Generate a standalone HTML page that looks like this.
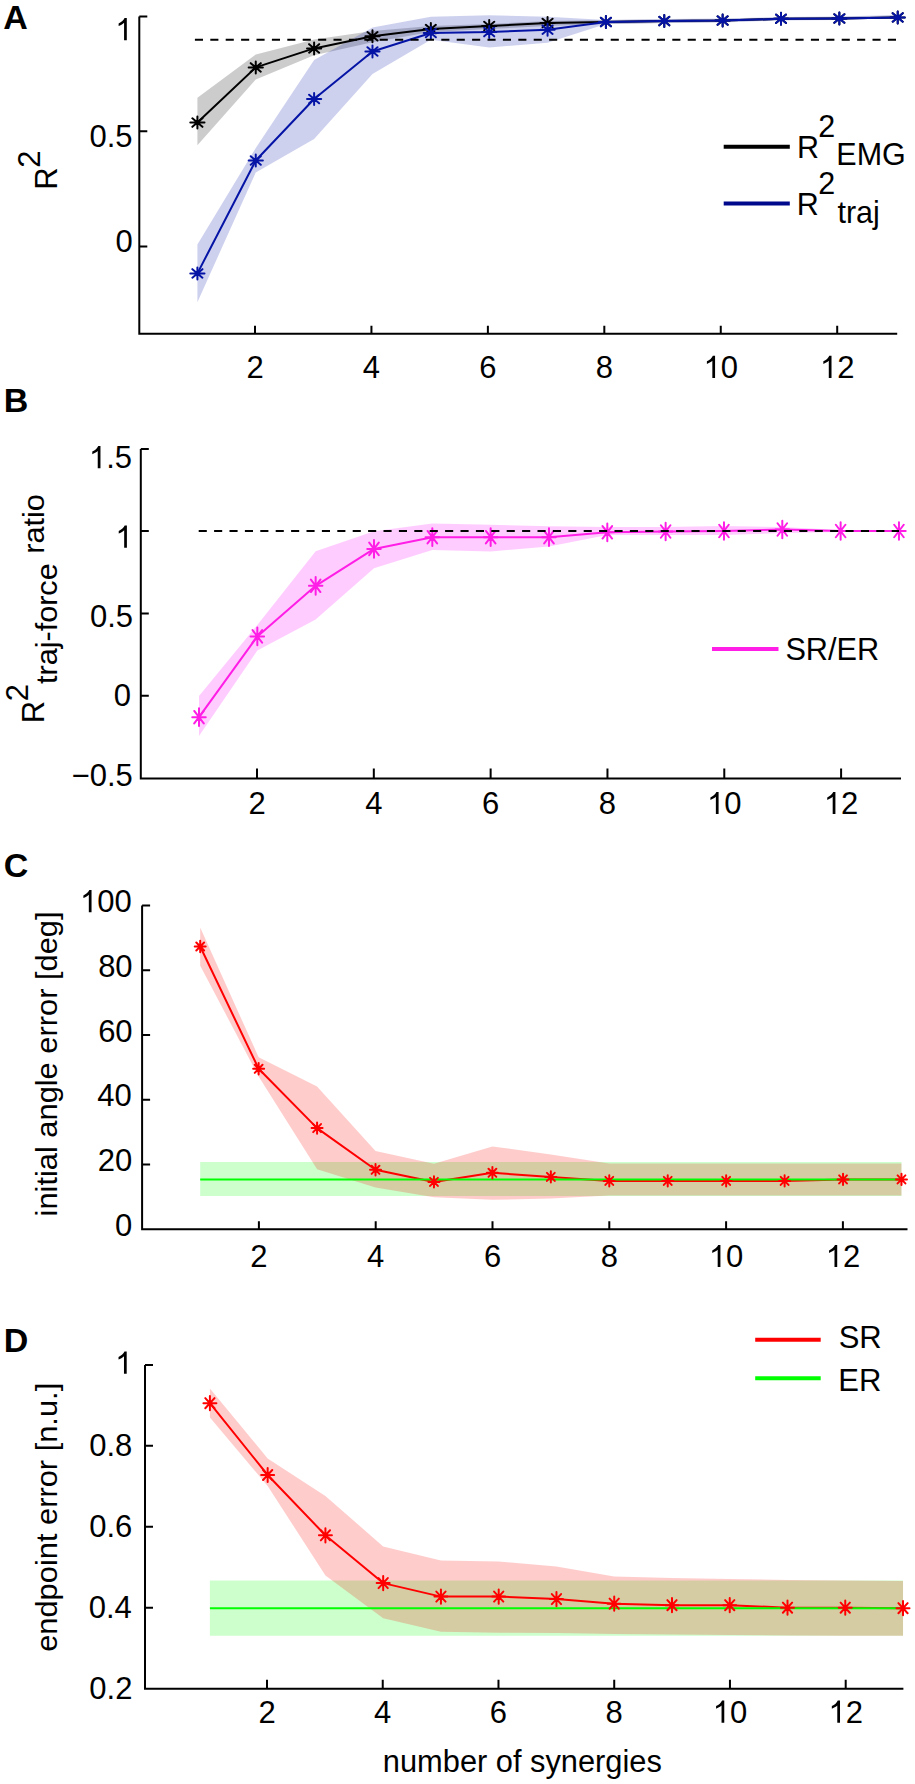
<!DOCTYPE html>
<html><head><meta charset="utf-8"><style>html,body{margin:0;padding:0;background:#fff;}svg{display:block;}</style></head><body>
<svg width="915" height="1784" viewBox="0 0 915 1784" font-family='"Liberation Sans", sans-serif' style="font-kerning:none">
<rect width="915" height="1784" fill="#fff"/>
<polygon points="197.4,97.8 255.76,54.4 314.12,39.5 372.48,31.1 430.84,26 489.2,24 547.56,21 605.92,20 664.28,19.5 722.64,19 781,17.5 839.36,17 897.72,15.5 897.72,18 839.36,19.5 781,20 722.64,22 664.28,23 605.92,24 547.56,26 489.2,29 430.84,32.1 372.48,42.3 314.12,55.3 255.76,79.5 197.4,145.2" fill="#000" fill-opacity="0.2"/>
<polygon points="197.4,244.5 255.76,148 314.12,60 372.48,27.4 430.84,16.8 489.2,15.3 547.56,16.8 605.92,20 664.28,19 722.64,18.5 781,17 839.36,16.5 897.72,15 897.72,18 839.36,20 781,20.5 722.64,22.5 664.28,23 605.92,24 547.56,42.8 489.2,47.4 430.84,39.8 372.48,73.9 314.12,138.9 255.76,172.4 197.4,302.2" fill="#0a19aa" fill-opacity="0.2"/>
<polyline points="197.4,122.6 255.76,67.4 314.12,48.4 372.48,36.3 430.84,29.1 489.2,26 547.56,23 605.92,22 664.28,21.1 722.64,20.6 781,18.8 839.36,18.5 897.72,17.4" fill="none" stroke="#000" stroke-width="2" stroke-linejoin="round"/>
<path d="M190.3 122.6H204.5M197.4 116.6V128.6M192.38 118.36L202.42 126.84M192.38 126.84L202.42 118.36M248.66 67.4H262.86M255.76 61.4V73.4M250.74 63.16L260.78 71.64M250.74 71.64L260.78 63.16M307.02 48.4H321.22M314.12 42.4V54.4M309.1 44.16L319.14 52.64M309.1 52.64L319.14 44.16M365.38 36.3H379.58M372.48 30.3V42.3M367.46 32.06L377.5 40.54M367.46 40.54L377.5 32.06M423.74 29.1H437.94M430.84 23.1V35.1M425.82 24.86L435.86 33.34M425.82 33.34L435.86 24.86M482.1 26H496.3M489.2 20V32M484.18 21.76L494.22 30.24M484.18 30.24L494.22 21.76M540.46 23H554.66M547.56 17V29M542.54 18.76L552.58 27.24M542.54 27.24L552.58 18.76M598.82 22H613.02M605.92 16V28M600.9 17.76L610.94 26.24M600.9 26.24L610.94 17.76M657.18 21.1H671.38M664.28 15.1V27.1M659.26 16.86L669.3 25.34M659.26 25.34L669.3 16.86M715.54 20.6H729.74M722.64 14.6V26.6M717.62 16.36L727.66 24.84M717.62 24.84L727.66 16.36M773.9 18.8H788.1M781 12.8V24.8M775.98 14.56L786.02 23.04M775.98 23.04L786.02 14.56M832.26 18.5H846.46M839.36 12.5V24.5M834.34 14.26L844.38 22.74M834.34 22.74L844.38 14.26M890.62 17.4H904.82M897.72 11.4V23.4M892.7 13.16L902.74 21.64M892.7 21.64L902.74 13.16" fill="none" stroke="#000" stroke-width="2" stroke-linecap="round"/>
<polyline points="197.4,273.4 255.76,160.5 314.12,99 372.48,51.5 430.84,33 489.2,32.1 547.56,29.7 605.92,22 664.28,21.1 722.64,20.6 781,18.8 839.36,18.5 897.72,17.4" fill="none" stroke="#0514a5" stroke-width="2" stroke-linejoin="round"/>
<path d="M190.3 273.4H204.5M197.4 267.4V279.4M192.38 269.16L202.42 277.64M192.38 277.64L202.42 269.16M248.66 160.5H262.86M255.76 154.5V166.5M250.74 156.26L260.78 164.74M250.74 164.74L260.78 156.26M307.02 99H321.22M314.12 93V105M309.1 94.76L319.14 103.24M309.1 103.24L319.14 94.76M365.38 51.5H379.58M372.48 45.5V57.5M367.46 47.26L377.5 55.74M367.46 55.74L377.5 47.26M423.74 33H437.94M430.84 27V39M425.82 28.76L435.86 37.24M425.82 37.24L435.86 28.76M482.1 32.1H496.3M489.2 26.1V38.1M484.18 27.86L494.22 36.34M484.18 36.34L494.22 27.86M540.46 29.7H554.66M547.56 23.7V35.7M542.54 25.46L552.58 33.94M542.54 33.94L552.58 25.46M598.82 22H613.02M605.92 16V28M600.9 17.76L610.94 26.24M600.9 26.24L610.94 17.76M657.18 21.1H671.38M664.28 15.1V27.1M659.26 16.86L669.3 25.34M659.26 25.34L669.3 16.86M715.54 20.6H729.74M722.64 14.6V26.6M717.62 16.36L727.66 24.84M717.62 24.84L727.66 16.36M773.9 18.8H788.1M781 12.8V24.8M775.98 14.56L786.02 23.04M775.98 23.04L786.02 14.56M832.26 18.5H846.46M839.36 12.5V24.5M834.34 14.26L844.38 22.74M834.34 22.74L844.38 14.26M890.62 17.4H904.82M897.72 11.4V23.4M892.7 13.16L902.74 21.64M892.7 21.64L902.74 13.16" fill="none" stroke="#0514a5" stroke-width="2" stroke-linecap="round"/>
<path d="M194.9 39.8H896.3" stroke="#000" stroke-width="2" stroke-dasharray="8.1 7.3"/>
<path d="M139.3 16.6V333.8H897.2" fill="none" stroke="#000" stroke-width="2"/>
<path d="M139.3 16.6h8M139.3 131.3h8M139.3 246.4h8" stroke="#000" stroke-width="2"/>
<path d="M255 333.8v-8M371.44 333.8v-8M487.88 333.8v-8M604.32 333.8v-8M720.76 333.8v-8M837.2 333.8v-8" stroke="#000" stroke-width="2"/>
<path transform="translate(115.25,40.2) scale(0.01514)" d="M763 0H583V-1147C540-1106 480-1062 412-1023C345-984 280-951 223-930V-1104C316-1148 398-1201 468-1263C538-1325 588-1393 617-1466H763Z"/>
<text x="89.51" y="146.6" font-size="31">0.5</text>
<text x="115.57" y="252.3" font-size="31">0</text>
<text x="246.38" y="378" font-size="31">2</text>
<text x="362.82" y="378" font-size="31">4</text>
<text x="479.26" y="378" font-size="31">6</text>
<text x="595.7" y="378" font-size="31">8</text>
<path transform="translate(703.52,378) scale(0.01514)" d="M763 0H583V-1147C540-1106 480-1062 412-1023C345-984 280-951 223-930V-1104C316-1148 398-1201 468-1263C538-1325 588-1393 617-1466H763Z"/>
<text x="720.76" y="378" font-size="31">0</text>
<path transform="translate(819.96,378) scale(0.01514)" d="M763 0H583V-1147C540-1106 480-1062 412-1023C345-984 280-951 223-930V-1104C316-1148 398-1201 468-1263C538-1325 588-1393 617-1466H763Z"/>
<text x="837.2" y="378" font-size="31">2</text>
<path d="M723.7 146.7H789.8" stroke="#000" stroke-width="4"/>
<path d="M723.7 203.5H789.8" stroke="#00088c" stroke-width="4"/>
<text x="796.9" y="157.7" font-size="30.5">R</text>
<text x="818.37" y="136.7" font-size="30.5">2</text>
<text x="836.3" y="165.4" font-size="30.5">EMG</text>
<text x="796.7" y="215.2" font-size="30.5">R</text>
<text x="818.37" y="194.1" font-size="30.5">2</text>
<text x="837.44" y="222.7" font-size="30.5">traj</text>
<text transform="translate(56.7,189.74) rotate(-90) scale(1.0,1)" font-size="31">R</text>
<text transform="translate(40,167.76) rotate(-90) scale(1.0,1)" font-size="31">2</text>
<text x="3.25" y="28.7" font-size="34" font-weight="bold">A</text>
<polygon points="199,696.1 257.33,625 315.66,551.2 373.99,531.3 432.32,523.6 490.65,524.7 548.98,526.3 607.31,527 665.64,527 723.97,526 782.3,527 840.63,530 898.96,530 898.96,532 840.63,532 782.3,533 723.97,535 665.64,535 607.31,535 548.98,546.5 490.65,551.4 432.32,550 373.99,568.2 315.66,619.4 257.33,650.6 199,735.9" fill="#ff00ff" fill-opacity="0.2"/>
<polyline points="199,717.2 257.33,636.4 315.66,585.8 373.99,548.9 432.32,537.2 490.65,537.2 548.98,537.2 607.31,532.3 665.64,531.5 723.97,531 782.3,529.5 840.63,531 898.96,531" fill="none" stroke="#ff1ee6" stroke-width="2" stroke-linejoin="round"/>
<path d="M192.25 717.2H205.75M199 708.35V726.05M194.23 710.94L203.77 723.46M194.23 723.46L203.77 710.94M250.58 636.4H264.08M257.33 627.55V645.25M252.56 630.14L262.1 642.66M252.56 642.66L262.1 630.14M308.91 585.8H322.41M315.66 576.95V594.65M310.89 579.54L320.43 592.06M310.89 592.06L320.43 579.54M367.24 548.9H380.74M373.99 540.05V557.75M369.22 542.64L378.76 555.16M369.22 555.16L378.76 542.64M425.57 537.2H439.07M432.32 528.35V546.05M427.55 530.94L437.09 543.46M427.55 543.46L437.09 530.94M483.9 537.2H497.4M490.65 528.35V546.05M485.88 530.94L495.42 543.46M485.88 543.46L495.42 530.94M542.23 537.2H555.73M548.98 528.35V546.05M544.21 530.94L553.75 543.46M544.21 543.46L553.75 530.94M600.56 532.3H614.06M607.31 523.45V541.15M602.54 526.04L612.08 538.56M602.54 538.56L612.08 526.04M658.89 531.5H672.39M665.64 522.65V540.35M660.87 525.24L670.41 537.76M660.87 537.76L670.41 525.24M717.22 531H730.72M723.97 522.15V539.85M719.2 524.74L728.74 537.26M719.2 537.26L728.74 524.74M775.55 529.5H789.05M782.3 520.65V538.35M777.53 523.24L787.07 535.76M777.53 535.76L787.07 523.24M833.88 531H847.38M840.63 522.15V539.85M835.86 524.74L845.4 537.26M835.86 537.26L845.4 524.74M892.21 531H905.71M898.96 522.15V539.85M894.19 524.74L903.73 537.26M894.19 537.26L903.73 524.74" fill="none" stroke="#ff1ee6" stroke-width="2" stroke-linecap="round"/>
<path d="M198.7 530.9H899" stroke="#000" stroke-width="2" stroke-dasharray="8.1 7.3"/>
<path d="M140.8 448.9V778.6H901" fill="none" stroke="#000" stroke-width="2"/>
<path d="M140.8 448.9h8M140.8 531h8M140.8 613.5h8M140.8 695.8h8" stroke="#000" stroke-width="2"/>
<path d="M257 778.6v-10M373.82 778.6v-10M490.64 778.6v-10M607.46 778.6v-10M724.28 778.6v-10M841.1 778.6v-10" stroke="#000" stroke-width="2"/>
<path transform="translate(88.91,468.3) scale(0.01514)" d="M763 0H583V-1147C540-1106 480-1062 412-1023C345-984 280-951 223-930V-1104C316-1148 398-1201 468-1263C538-1325 588-1393 617-1466H763Z"/>
<text x="106.15" y="468.3" font-size="31">.5</text>
<path transform="translate(115.35,547.7) scale(0.01514)" d="M763 0H583V-1147C540-1106 480-1062 412-1023C345-984 280-951 223-930V-1104C316-1148 398-1201 468-1263C538-1325 588-1393 617-1466H763Z"/>
<text x="90.01" y="627.3" font-size="31">0.5</text>
<text x="113.87" y="706.1" font-size="31">0</text>
<text x="71.6" y="785.8" font-size="31">−0.5</text>
<text x="248.38" y="814.1" font-size="31">2</text>
<text x="365.2" y="814.1" font-size="31">4</text>
<text x="482.02" y="814.1" font-size="31">6</text>
<text x="598.84" y="814.1" font-size="31">8</text>
<path transform="translate(707.04,814.1) scale(0.01514)" d="M763 0H583V-1147C540-1106 480-1062 412-1023C345-984 280-951 223-930V-1104C316-1148 398-1201 468-1263C538-1325 588-1393 617-1466H763Z"/>
<text x="724.28" y="814.1" font-size="31">0</text>
<path transform="translate(823.86,814.1) scale(0.01514)" d="M763 0H583V-1147C540-1106 480-1062 412-1023C345-984 280-951 223-930V-1104C316-1148 398-1201 468-1263C538-1325 588-1393 617-1466H763Z"/>
<text x="841.1" y="814.1" font-size="31">2</text>
<path d="M712 648.9H778.5" stroke="#ff1ee6" stroke-width="4"/>
<text x="785.41" y="659.6" font-size="30.7">SR/ER</text>
<text transform="translate(44.1,723.24) rotate(-90) scale(1.0,1)" font-size="31">R</text>
<text transform="translate(27.7,701.26) rotate(-90) scale(1.0,1)" font-size="31">2</text>
<text transform="translate(56.9,684.06) rotate(-90) scale(1.02,1)" font-size="30">traj-force</text>
<text transform="translate(44.1,553.84) rotate(-90) scale(1.025,1)" font-size="30">ratio</text>
<text x="3.83" y="411.8" font-size="34" font-weight="bold">B</text>
<polygon points="200.2,1162 258.64,1162 317.08,1162 375.52,1162 433.96,1162 492.4,1162 550.84,1162 609.28,1162 667.72,1162 726.16,1162 784.6,1162 843.04,1162 901.48,1162 901.48,1196 843.04,1196 784.6,1196 726.16,1196 667.72,1196 609.28,1196 550.84,1196 492.4,1196 433.96,1196 375.52,1196 317.08,1196 258.64,1196 200.2,1196" fill="#00ff00" fill-opacity="0.2"/>
<polygon points="200.2,927.6 258.64,1057.2 317.08,1086.4 375.52,1151 433.96,1163.8 492.4,1146.4 550.84,1154.6 609.28,1163.5 667.72,1163.5 726.16,1163.5 784.6,1163.5 843.04,1163.5 901.48,1163.5 901.48,1195.6 843.04,1195.6 784.6,1195.6 726.16,1195.6 667.72,1195.6 609.28,1195.6 550.84,1198.5 492.4,1199.8 433.96,1197.2 375.52,1187.4 317.08,1169.3 258.64,1076.5 200.2,965.7" fill="#ff0000" fill-opacity="0.2"/>
<polyline points="200.2,946.5 258.64,1068.8 317.08,1128.1 375.52,1169.8 433.96,1181.9 492.4,1172.8 550.84,1176.9 609.28,1180.9 667.72,1180.9 726.16,1180.9 784.6,1180.9 843.04,1179.4 901.48,1179.4" fill="none" stroke="#ff0000" stroke-width="2" stroke-linejoin="round"/>
<polyline points="200.2,1179.4 901.48,1179.4" fill="none" stroke="#00ff00" stroke-width="2" stroke-linejoin="round"/>
<path d="M194.7 946.5H205.7M200.2 940.8V952.2M196.31 942.47L204.09 950.53M196.31 950.53L204.09 942.47M253.14 1068.8H264.14M258.64 1063.1V1074.5M254.75 1064.77L262.53 1072.83M254.75 1072.83L262.53 1064.77M311.58 1128.1H322.58M317.08 1122.4V1133.8M313.19 1124.07L320.97 1132.13M313.19 1132.13L320.97 1124.07M370.02 1169.8H381.02M375.52 1164.1V1175.5M371.63 1165.77L379.41 1173.83M371.63 1173.83L379.41 1165.77M428.46 1181.9H439.46M433.96 1176.2V1187.6M430.07 1177.87L437.85 1185.93M430.07 1185.93L437.85 1177.87M486.9 1172.8H497.9M492.4 1167.1V1178.5M488.51 1168.77L496.29 1176.83M488.51 1176.83L496.29 1168.77M545.34 1176.9H556.34M550.84 1171.2V1182.6M546.95 1172.87L554.73 1180.93M546.95 1180.93L554.73 1172.87M603.78 1180.9H614.78M609.28 1175.2V1186.6M605.39 1176.87L613.17 1184.93M605.39 1184.93L613.17 1176.87M662.22 1180.9H673.22M667.72 1175.2V1186.6M663.83 1176.87L671.61 1184.93M663.83 1184.93L671.61 1176.87M720.66 1180.9H731.66M726.16 1175.2V1186.6M722.27 1176.87L730.05 1184.93M722.27 1184.93L730.05 1176.87M779.1 1180.9H790.1M784.6 1175.2V1186.6M780.71 1176.87L788.49 1184.93M780.71 1184.93L788.49 1176.87M837.54 1179.4H848.54M843.04 1173.7V1185.1M839.15 1175.37L846.93 1183.43M839.15 1183.43L846.93 1175.37M895.98 1179.4H906.98M901.48 1173.7V1185.1M897.59 1175.37L905.37 1183.43M897.59 1183.43L905.37 1175.37" fill="none" stroke="#ff0000" stroke-width="2" stroke-linecap="round"/>
<path d="M142.1 905.4V1229.2H907.5" fill="none" stroke="#000" stroke-width="2"/>
<path d="M142.1 905.4h8M142.1 970.16h8M142.1 1034.92h8M142.1 1099.68h8M142.1 1164.44h8" stroke="#000" stroke-width="2"/>
<path d="M258.9 1229.2v-8M375.7 1229.2v-8M492.5 1229.2v-8M609.3 1229.2v-8M726.1 1229.2v-8M842.9 1229.2v-8" stroke="#000" stroke-width="2"/>
<path transform="translate(79.99,912.2) scale(0.01514)" d="M763 0H583V-1147C540-1106 480-1062 412-1023C345-984 280-951 223-930V-1104C316-1148 398-1201 468-1263C538-1325 588-1393 617-1466H763Z"/>
<text x="97.23" y="912.2" font-size="31">00</text>
<text x="98.13" y="976.96" font-size="31">80</text>
<text x="98.13" y="1041.72" font-size="31">60</text>
<text x="97.23" y="1106.48" font-size="31">40</text>
<text x="97.73" y="1171.24" font-size="31">20</text>
<text x="114.97" y="1236" font-size="31">0</text>
<text x="250.28" y="1267.1" font-size="31">2</text>
<text x="367.08" y="1267.1" font-size="31">4</text>
<text x="483.88" y="1267.1" font-size="31">6</text>
<text x="600.68" y="1267.1" font-size="31">8</text>
<path transform="translate(708.86,1267.1) scale(0.01514)" d="M763 0H583V-1147C540-1106 480-1062 412-1023C345-984 280-951 223-930V-1104C316-1148 398-1201 468-1263C538-1325 588-1393 617-1466H763Z"/>
<text x="726.1" y="1267.1" font-size="31">0</text>
<path transform="translate(825.66,1267.1) scale(0.01514)" d="M763 0H583V-1147C540-1106 480-1062 412-1023C345-984 280-951 223-930V-1104C316-1148 398-1201 468-1263C538-1325 588-1393 617-1466H763Z"/>
<text x="842.9" y="1267.1" font-size="31">2</text>
<text transform="translate(56.7,1216.46) rotate(-90) scale(1.028,1)" font-size="30">initial angle error [deg]</text>
<text x="3.81" y="876.6" font-size="34" font-weight="bold">C</text>
<polygon points="209.9,1580.5 267.66,1580.5 325.42,1580.5 383.18,1580.5 440.94,1580.5 498.7,1580.5 556.46,1580.5 614.22,1580.5 671.98,1580.5 729.74,1580.5 787.5,1580.5 845.26,1580.5 903.02,1580.5 903.02,1635.8 845.26,1635.8 787.5,1635.8 729.74,1635.8 671.98,1635.8 614.22,1635.8 556.46,1635.8 498.7,1635.8 440.94,1635.8 383.18,1635.8 325.42,1635.8 267.66,1635.8 209.9,1635.8" fill="#00ff00" fill-opacity="0.2"/>
<polygon points="209.9,1388.5 267.66,1458.4 325.42,1496 383.18,1546.4 440.94,1560.4 498.7,1561.4 556.46,1566.5 614.22,1576.5 671.98,1578 729.74,1579 787.5,1580 845.26,1580.5 903.02,1581 903.02,1635.8 845.26,1635.8 787.5,1635.5 729.74,1635 671.98,1634.5 614.22,1634 556.46,1633 498.7,1632.8 440.94,1631.8 383.18,1618.3 325.42,1575.5 267.66,1486 209.9,1417.6" fill="#ff0000" fill-opacity="0.2"/>
<polyline points="209.9,1403.2 267.66,1475 325.42,1535.3 383.18,1583.1 440.94,1596.6 498.7,1596.6 556.46,1599.1 614.22,1603.7 671.98,1605.2 729.74,1605.2 787.5,1607.7 845.26,1607.7 903.02,1608.2" fill="none" stroke="#ff0000" stroke-width="2" stroke-linejoin="round"/>
<polyline points="209.9,1608.2 903.02,1608.2" fill="none" stroke="#00ff00" stroke-width="2" stroke-linejoin="round"/>
<path d="M203.4 1403.2H216.4M209.9 1396.1V1410.3M205.3 1398.18L214.5 1408.22M205.3 1408.22L214.5 1398.18M261.16 1475H274.16M267.66 1467.9V1482.1M263.06 1469.98L272.26 1480.02M263.06 1480.02L272.26 1469.98M318.92 1535.3H331.92M325.42 1528.2V1542.4M320.82 1530.28L330.02 1540.32M320.82 1540.32L330.02 1530.28M376.68 1583.1H389.68M383.18 1576V1590.2M378.58 1578.08L387.78 1588.12M378.58 1588.12L387.78 1578.08M434.44 1596.6H447.44M440.94 1589.5V1603.7M436.34 1591.58L445.54 1601.62M436.34 1601.62L445.54 1591.58M492.2 1596.6H505.2M498.7 1589.5V1603.7M494.1 1591.58L503.3 1601.62M494.1 1601.62L503.3 1591.58M549.96 1599.1H562.96M556.46 1592V1606.2M551.86 1594.08L561.06 1604.12M551.86 1604.12L561.06 1594.08M607.72 1603.7H620.72M614.22 1596.6V1610.8M609.62 1598.68L618.82 1608.72M609.62 1608.72L618.82 1598.68M665.48 1605.2H678.48M671.98 1598.1V1612.3M667.38 1600.18L676.58 1610.22M667.38 1610.22L676.58 1600.18M723.24 1605.2H736.24M729.74 1598.1V1612.3M725.14 1600.18L734.34 1610.22M725.14 1610.22L734.34 1600.18M781 1607.7H794M787.5 1600.6V1614.8M782.9 1602.68L792.1 1612.72M782.9 1612.72L792.1 1602.68M838.76 1607.7H851.76M845.26 1600.6V1614.8M840.66 1602.68L849.86 1612.72M840.66 1612.72L849.86 1602.68M896.52 1608.2H909.52M903.02 1601.1V1615.3M898.42 1603.18L907.62 1613.22M898.42 1613.22L907.62 1603.18" fill="none" stroke="#ff0000" stroke-width="2" stroke-linecap="round"/>
<path d="M145 1364.9V1688.7H903.4" fill="none" stroke="#000" stroke-width="2"/>
<path d="M145 1364.9h8M145 1445.85h8M145 1526.8h8M145 1607.75h8" stroke="#000" stroke-width="2"/>
<path d="M267 1688.7v-9M382.74 1688.7v-9M498.48 1688.7v-9M614.22 1688.7v-9M729.96 1688.7v-9M845.7 1688.7v-9" stroke="#000" stroke-width="2"/>
<path transform="translate(115.15,1373.7) scale(0.01514)" d="M763 0H583V-1147C540-1106 480-1062 412-1023C345-984 280-951 223-930V-1104C316-1148 398-1201 468-1263C538-1325 588-1393 617-1466H763Z"/>
<text x="89.15" y="1456.45" font-size="31">0.8</text>
<text x="89.17" y="1537.4" font-size="31">0.6</text>
<text x="88.71" y="1618.35" font-size="31">0.4</text>
<text x="89.36" y="1699.3" font-size="31">0.2</text>
<text x="258.38" y="1722.8" font-size="31">2</text>
<text x="374.12" y="1722.8" font-size="31">4</text>
<text x="489.86" y="1722.8" font-size="31">6</text>
<text x="605.6" y="1722.8" font-size="31">8</text>
<path transform="translate(712.72,1722.8) scale(0.01514)" d="M763 0H583V-1147C540-1106 480-1062 412-1023C345-984 280-951 223-930V-1104C316-1148 398-1201 468-1263C538-1325 588-1393 617-1466H763Z"/>
<text x="729.96" y="1722.8" font-size="31">0</text>
<path transform="translate(828.46,1722.8) scale(0.01514)" d="M763 0H583V-1147C540-1106 480-1062 412-1023C345-984 280-951 223-930V-1104C316-1148 398-1201 468-1263C538-1325 588-1393 617-1466H763Z"/>
<text x="845.7" y="1722.8" font-size="31">2</text>
<path d="M755.2 1339.7H820.7" stroke="#ff0000" stroke-width="4"/>
<path d="M755.2 1378.2H820.7" stroke="#00ff00" stroke-width="4"/>
<text x="838.69" y="1348.4" font-size="31">SR</text>
<text x="838.36" y="1390.5" font-size="31">ER</text>
<text transform="translate(56.7,1651.81) rotate(-90) scale(1.028,1)" font-size="30">endpoint error [n.u.]</text>
<text x="382.85" y="1772.2" font-size="30.8">number of synergies</text>
<text x="3.83" y="1351.7" font-size="34" font-weight="bold">D</text>
</svg>
</body></html>
